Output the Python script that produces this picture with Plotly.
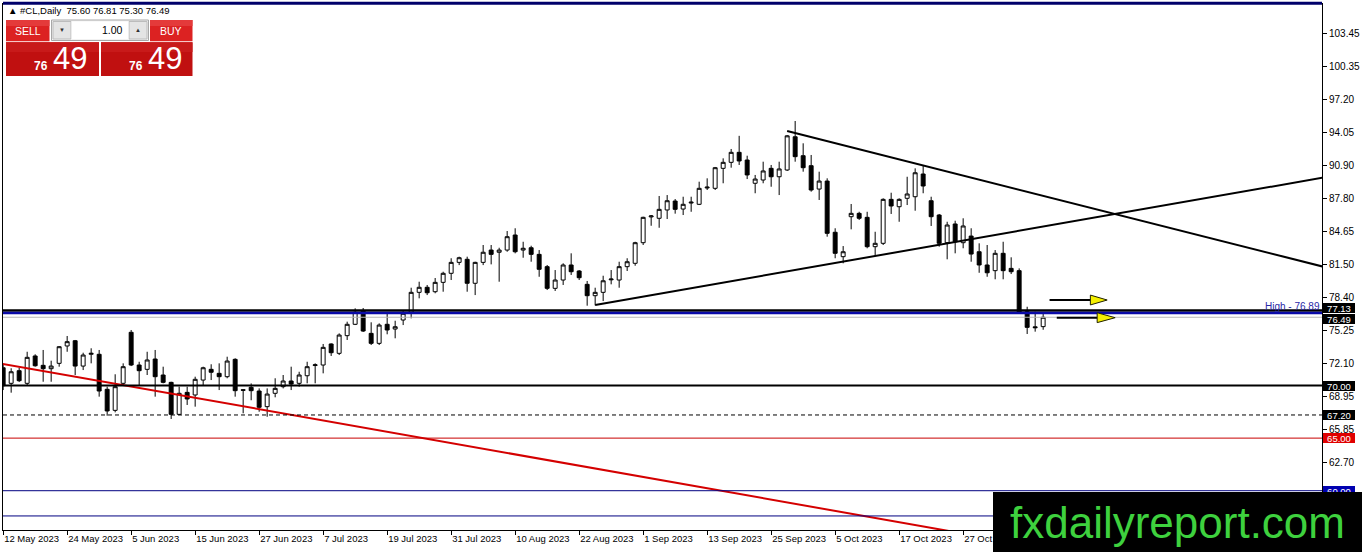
import numpy as np
import pandas as pd
import plotly.graph_objects as go

# ---------------- data ----------------
opens = [71.69, 70.21, 71.41, 70.21, 72.81, 71.92, 71.60, 72.11, 73.76, 74.26,
         71.85, 72.97, 72.97, 69.64, 67.64, 70.21, 75.06, 71.95, 71.54, 72.52,
         71.00, 70.30, 67.26, 69.35, 69.10, 70.52, 71.54, 71.16, 70.84, 72.49,
         69.60, 69.83, 69.48, 67.99, 69.26, 69.89, 70.43, 70.21, 70.93, 71.90,
         71.95, 73.95, 73.06, 74.74, 75.82, 77.08, 74.96, 74.01, 75.82, 75.37,
         76.23, 76.96, 78.86, 79.34, 78.92, 79.81, 80.67, 81.71, 82.00, 79.72,
         81.71, 82.88, 82.67, 82.88, 84.31, 82.88, 83.10, 82.47, 81.30, 79.24,
         80.03, 81.46, 80.89, 79.62, 78.54, 78.86, 80.05, 80.03, 81.30, 81.62,
         83.58, 86.03, 85.90, 86.69, 87.54, 86.78, 87.35, 87.23, 88.78, 88.75,
         90.65, 91.22, 92.17, 91.44, 89.23, 89.54, 90.65, 89.85, 90.49, 93.65,
         91.85, 90.90, 88.68, 89.44, 84.57, 82.25, 86.05, 86.37, 85.99, 83.20,
         83.52, 87.70, 87.00, 87.80, 87.95, 90.11, 87.57, 86.21, 83.58, 85.36,
         83.58, 84.21, 82.72, 81.46, 80.92, 82.57, 81.14, 80.92, 77.02, 75.58,
         75.60]
highs = [71.95, 71.64, 71.69, 73.21, 72.97, 73.38, 72.36, 73.75, 74.71, 74.33,
         73.12, 73.54, 73.38, 69.89, 71.07, 72.11, 75.28, 72.26, 73.21, 73.38,
         71.79, 70.36, 69.89, 69.89, 70.84, 71.79, 72.02, 72.11, 72.74, 72.59,
         69.62, 70.20, 69.73, 69.73, 70.69, 71.00, 71.79, 71.31, 72.26, 72.11,
         73.95, 74.01, 74.96, 76.07, 77.34, 77.37, 76.01, 75.91, 76.87, 76.16,
         77.08, 79.30, 79.87, 79.56, 80.22, 80.82, 82.10, 82.25, 82.25, 81.77,
         83.36, 83.36, 83.10, 84.69, 84.95, 83.67, 83.29, 82.88, 81.46, 80.98,
         81.62, 82.57, 80.98, 79.94, 79.30, 80.44, 80.98, 81.77, 82.10, 83.67,
         86.05, 86.21, 88.02, 88.11, 87.73, 87.95, 87.95, 89.38, 89.70, 90.78,
         91.60, 92.49, 93.74, 91.85, 90.02, 91.28, 90.97, 91.28, 93.82, 95.15,
         93.03, 91.92, 90.33, 89.70, 84.95, 83.26, 87.26, 86.52, 86.52, 84.62,
         87.80, 88.33, 87.80, 89.85, 90.65, 90.87, 87.95, 86.31, 85.57, 85.67,
         85.90, 84.95, 83.52, 83.36, 82.88, 83.67, 82.19, 81.14, 77.49, 77.02,
         76.81]
lows = [69.57, 69.32, 70.33, 70.05, 71.79, 70.36, 70.36, 71.79, 73.21, 71.00,
        71.47, 72.11, 68.94, 67.13, 67.45, 70.05, 71.85, 70.05, 71.00, 68.94,
        70.21, 66.82, 67.19, 68.15, 67.99, 70.05, 70.52, 69.57, 70.69, 68.94,
        67.36, 68.60, 67.51, 67.03, 68.88, 69.73, 69.57, 69.89, 70.21, 70.21,
        71.16, 72.81, 72.90, 74.33, 75.75, 75.09, 73.85, 73.85, 74.87, 74.49,
        75.75, 76.39, 78.29, 78.60, 78.77, 78.92, 80.03, 81.45, 78.92, 78.60,
        81.45, 81.52, 79.87, 82.72, 82.57, 82.15, 81.77, 80.34, 79.08, 78.99,
        79.56, 80.51, 80.03, 77.59, 77.62, 78.03, 79.62, 79.30, 80.89, 81.39,
        83.36, 85.19, 85.00, 85.83, 86.34, 86.21, 86.52, 87.16, 88.59, 88.59,
        89.23, 90.71, 90.97, 89.63, 88.28, 89.23, 88.90, 88.11, 90.40, 91.28,
        90.33, 88.43, 87.64, 84.15, 82.10, 81.62, 84.85, 85.74, 83.05, 82.31,
        83.36, 86.31, 85.57, 87.16, 86.62, 88.28, 85.17, 83.20, 82.00, 82.57,
        83.05, 81.77, 80.72, 80.34, 80.10, 80.10, 80.60, 76.86, 74.90, 75.12,
        75.30]
closes = [69.98, 71.31, 70.46, 72.68, 71.88, 71.60, 71.85, 73.69, 74.17, 71.85,
          72.90, 73.06, 69.48, 67.58, 69.89, 71.79, 71.95, 71.41, 72.43, 70.84,
          70.30, 67.26, 69.26, 68.72, 70.59, 71.69, 71.26, 70.84, 72.33, 69.51,
          69.55, 69.51, 67.93, 69.19, 69.73, 70.43, 70.14, 71.00, 71.79, 71.97,
          73.63, 73.12, 74.80, 75.82, 76.96, 75.18, 74.01, 75.75, 75.28, 75.59,
          76.87, 78.86, 79.34, 78.82, 79.81, 80.67, 81.71, 82.15, 79.72, 81.71,
          82.67, 82.47, 82.88, 84.15, 82.72, 83.05, 82.47, 81.05, 79.24, 80.03,
          81.46, 80.82, 80.25, 78.54, 78.86, 79.96, 80.12, 81.30, 81.77, 83.58,
          85.99, 86.12, 86.75, 87.57, 86.75, 87.23, 87.43, 88.75, 88.86, 90.71,
          91.22, 92.17, 91.35, 90.02, 89.63, 90.40, 89.85, 90.59, 93.74, 91.76,
          90.71, 88.59, 89.44, 84.47, 82.57, 82.72, 86.37, 85.90, 83.20, 83.52,
          87.70, 87.07, 87.70, 88.21, 90.23, 88.97, 86.05, 83.52, 85.26, 83.67,
          85.17, 82.50, 81.46, 80.72, 82.57, 80.92, 80.82, 76.92, 75.53, 75.50,
          76.49]

dates = pd.bdate_range("2023-05-12", periods=len(closes))

tick_dates = ["2023-05-12", "2023-05-24", "2023-06-05", "2023-06-15", "2023-06-27",
              "2023-07-07", "2023-07-19", "2023-07-31", "2023-08-10", "2023-08-22",
              "2023-09-01", "2023-09-13", "2023-09-25", "2023-10-05", "2023-10-17",
              "2023-10-27"]
tick_labels = ["12 May 2023", "24 May 2023", "5 Jun 2023", "15 Jun 2023", "27 Jun 2023",
               "7 Jul 2023", "19 Jul 2023", "31 Jul 2023", "10 Aug 2023", "22 Aug 2023",
               "1 Sep 2023", "13 Sep 2023", "25 Sep 2023", "5 Oct 2023", "17 Oct 2023",
               "27 Oct 2023"]

price_ticks = [103.45, 100.35, 97.20, 94.05, 90.90, 87.80, 84.65, 81.50,
               78.40, 75.25, 72.10, 68.95, 65.85, 62.70]

# horizontal levels drawn on the chart
level_prices = [77.13, 76.89, 76.49, 70.00, 67.20, 65.00, 60.00, 57.60]
# levels with a price box on the right axis
label_prices = [77.13, 76.49, 70.00, 67.20, 65.00, 60.00]
high_level = 76.89

# trend lines (bar index, price)
red_trend_x = [-2, 120]
red_trend_y = [72.32, 55.93]
up_trend_x = [74, 166]
up_trend_y = [77.66, 89.90]
down_trend_x = [98, 166]
down_trend_y = [94.20, 81.11]

# arrow objects (price level, bar index of tail / head base / tip)
arrow_prices = [78.13, 76.45]
arrow_tail_x = [130.8, 131.7]
arrow_base_x = [135.9, 136.75]
arrow_tip_x = [138.0, 139.0]

symbol_text = "▲ #CL,Daily&nbsp; 75.60 76.81 75.30 76.49"
bid_big = "49"
bid_small = "76"

# ---------------- figure ----------------
W, H = 1362, 552
ML, MR, MT, MB = 3, 40, 3, 22
PW, PH = W - ML - MR, H - MT - MB
X_RANGE = [-0.02, -0.02 + PW / 8.0]
Y_RANGE = [56.264, 106.369]


def px_x(px):
    return (px - ML) / PW


def px_y(py):
    return (H - MB - py) / PH


bar_x = np.arange(len(dates))
tickvals = [int(dates.get_loc(pd.Timestamp(d))) for d in tick_dates]

FONT = "Liberation Sans, Arial, sans-serif"

fig = go.Figure()

fig.add_trace(go.Candlestick(
    x=bar_x, open=opens, high=highs, low=lows, close=closes,
    increasing=dict(line=dict(color="black", width=1), fillcolor="white"),
    decreasing=dict(line=dict(color="black", width=1), fillcolor="black"),
    whiskerwidth=0, hoverinfo="skip", showlegend=False,
))

for xs, ys, col, w in [(red_trend_x, red_trend_y, "#d40000", 2),
                       (up_trend_x, up_trend_y, "black", 2),
                       (down_trend_x, down_trend_y, "black", 2)]:
    fig.add_trace(go.Scatter(x=xs, y=ys, mode="lines",
                             line=dict(color=col, width=w),
                             hoverinfo="skip", showlegend=False))

shapes = []
level_styles = {
    77.13: dict(color="#000000", width=2.5, dash="solid"),
    76.89: dict(color="#0a0aa8", width=2.5, dash="solid"),
    76.49: dict(color="#b8b8b8", width=1, dash="solid"),
    70.00: dict(color="#000000", width=2, dash="solid"),
    67.20: dict(color="#000000", width=1, dash="dash"),
    65.00: dict(color="#c80000", width=1, dash="solid"),
    60.00: dict(color="#000080", width=1, dash="solid"),
    57.60: dict(color="#000080", width=1, dash="solid"),
}
for p in level_prices:
    st = level_styles[p]
    shapes.append(dict(type="line", xref="paper", yref="y", x0=0, x1=1, y0=p, y1=p,
                       line=dict(color=st["color"], width=st["width"],
                                 dash="4px,3px" if st["dash"] == "dash" else "solid"),
                       layer="above"))

# top navy border line
shapes.append(dict(type="line", xref="paper", yref="paper", x0=0, x1=1,
                   y0=px_y(3.2), y1=px_y(3.2),
                   line=dict(color="#00006a", width=3)))

# arrows
for p, xt, xb, xp in zip(arrow_prices, arrow_tail_x, arrow_base_x, arrow_tip_x):
    shapes.append(dict(type="line", xref="x", yref="y", x0=xt, x1=xb, y0=p, y1=p,
                       line=dict(color="black", width=2), layer="above"))
    h = 0.47
    shapes.append(dict(type="path", xref="x", yref="y",
                       path=f"M {xb},{p + h} L {xb},{p - h} L {xp},{p} Z",
                       fillcolor="#f5f000", line=dict(color="#202000", width=1),
                       layer="above"))


def rect(x0, y0, x1, y1, fill, line=None):
    shapes.append(dict(type="rect", xref="paper", yref="paper",
                       x0=px_x(x0), x1=px_x(x1), y0=px_y(y1), y1=px_y(y0),
                       fillcolor=fill,
                       line=dict(color=line or fill, width=1 if line else 0),
                       layer="above"))


# one-click trading panel
rect(6, 20, 49.5, 41.3, "#dc2222")
rect(6, 20, 49.5, 26, "#e43a3a")
rect(150, 20, 192.5, 41.3, "#dc2222")
rect(150, 20, 192.5, 26, "#e43a3a")
rect(51.5, 20, 148.5, 40.5, "#f2f2f2", "#a8a8a8")
rect(53, 21.5, 71, 39, "#e4e4e4", "#bcbcbc")
rect(129, 21.5, 147, 39, "#e4e4e4", "#bcbcbc")
rect(71.5, 21.5, 128.5, 39, "#ffffff")
rect(6, 42.2, 99, 76, "#c01010")
rect(6, 42.2, 99, 52, "#c81a1a")
rect(101, 42.2, 192.5, 76, "#c01010")
rect(101, 42.2, 192.5, 52, "#c81a1a")

annotations = []


def text(px, py, s, size, color, xanchor="center", bold=False, family=FONT):
    annotations.append(dict(
        xref="paper", yref="paper", x=px_x(px), y=px_y(py), text=(f"<b>{s}</b>" if bold else s),
        showarrow=False, xanchor=xanchor, yanchor="middle",
        font=dict(family=family, size=size, color=color)))


text(6, 11, symbol_text, 9.5, "black", xanchor="left")
text(27.5, 31, "SELL", 10.5, "white")
text(171, 31, "BUY", 10.5, "white")
text(125, 30.5, "1.00", 10.5, "black", xanchor="right")
text(62, 30.5, "▼", 6, "#303030")
text(138, 30.5, "▲", 6, "#303030")
text(49.5, 66.2, bid_small, 12, "white", xanchor="right", bold=True)
text(50.5, 58.5, bid_big, 31, "white", xanchor="left")
text(144.5, 66.2, bid_small, 12, "white", xanchor="right", bold=True)
text(145.5, 58.5, bid_big, 31, "white", xanchor="left")

# "High - 76.89" description
annotations.append(dict(xref="paper", yref="y", x=1.0, y=high_level, text=f"High - {high_level:.2f}",
                        showarrow=False, xanchor="right", yanchor="bottom", yshift=-1,
                        font=dict(family=FONT, size=10, color="#2a2aa8")))

# price boxes on the right axis
box_styles = {
    77.13: ("#000000", 3.0),
    76.49: ("#000000", -1.5),
    70.00: ("#000000", 0),
    67.20: ("#000000", 0),
    65.00: ("#e00000", 0),
    60.00: ("#0000b0", 0),
}
for p in label_prices:
    bg, ysh = box_styles[p]
    annotations.append(dict(xref="paper", yref="y", x=px_x(1323.5), y=p, text=f"{p:.2f}",
                            showarrow=False, xanchor="left", yanchor="middle", yshift=ysh,
                            bgcolor=bg, borderpad=0, borderwidth=0, width=32, height=10,
                            font=dict(family=FONT, size=9.5, color="white")))

# watermark
annotations.append(dict(xref="paper", yref="paper", x=px_x(993), y=px_y(491.7),
                        text="fxdailyreport.com", showarrow=False,
                        xanchor="left", yanchor="top", width=369, height=61,
                        bgcolor="black", borderpad=0, borderwidth=0, align="center",
                        valign="middle",
                        font=dict(family=FONT, size=44, color="#3ed13e")))

fig.update_layout(
    width=W, height=H,
    margin=dict(l=ML, r=MR, t=MT, b=MB, pad=0, autoexpand=False),
    paper_bgcolor="white", plot_bgcolor="white",
    showlegend=False,
    shapes=shapes, annotations=annotations,
    xaxis=dict(range=X_RANGE, tickmode="array", tickvals=tickvals, ticktext=tick_labels,
               ticks="outside", ticklen=4, tickcolor="black", tickwidth=1,
               ticklabelposition="outside right", tickangle=0, automargin=False,
               showgrid=False, zeroline=False, showline=True, linecolor="black", linewidth=1,
               tickfont=dict(family=FONT, size=9.5, color="black"),
               rangeslider=dict(visible=False), fixedrange=True),
    yaxis=dict(side="right", range=Y_RANGE, tickmode="array", tickvals=price_ticks,
               ticktext=[f"{v:.2f}" for v in price_ticks], automargin=False,
               ticks="outside", ticklen=4, tickcolor="black", tickwidth=1,
               showgrid=False, zeroline=False, showline=True, mirror=True,
               linecolor="black", linewidth=1,
               tickfont=dict(family=FONT, size=10, color="black"), fixedrange=True),
)

fig.write_html("out.html", config={"displayModeBar": False},
               post_script="document.body.style.margin='0';document.body.style.overflow='hidden';")
